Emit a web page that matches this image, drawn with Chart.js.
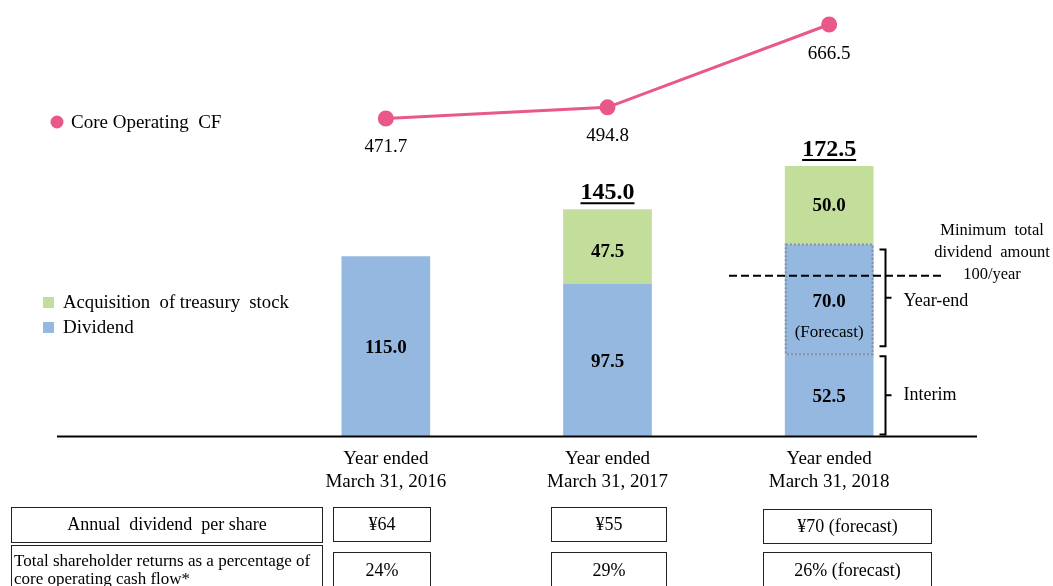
<!DOCTYPE html>
<html><head><meta charset="utf-8">
<script src="https://cdn.jsdelivr.net/npm/chart.js@4"></script>
<style>
html,body{margin:0;padding:0;background:#fff;overflow:hidden;}
#wrap{position:relative;width:1053px;height:586px;overflow:hidden;font-family:"Liberation Serif","Times New Roman",serif;color:#000;}
canvas{position:absolute;left:0;top:0;}
.box{position:absolute;box-sizing:border-box;border:1.5px solid #222;font-size:18px;text-align:center;white-space:pre;}
</style></head><body>
<div id="wrap"><canvas id="c" width="1053" height="586"></canvas><div id="tbl"></div></div>
<script>
// ---- data ----
const categories = [['Year ended','March 31, 2016'],['Year ended','March 31, 2017'],['Year ended','March 31, 2018']];
const dividend = [115.0, 97.5, 52.5];
const yearEndForecast = [null, null, 70.0];
const treasuryStock = [null, 47.5, 50.0];
const coreOperatingCF = [471.7, 494.8, 666.5];
const totals = [null, 145.0, 172.5];
const minDividendLevel = 100;
const minDividendText = ['Minimum  total', 'dividend  amount', '100/year'];
const rowLabels = ['Annual  dividend  per share', 'Total shareholder returns as a percentage of core operating cash flow*'];
const dividendPerShare = ['¥64', '¥55', '¥70 (forecast)'];
const returnRatio = ['24%', '29%', '26% (forecast)'];

// ---- styles ----
const FONT = '"Liberation Serif","Times New Roman",serif';
const BLUE = '#95B8E0';
const GREEN = '#C3DD9B';
const PINK = '#E8588A';

const overlay = {
  id: 'overlay',
  afterDatasetsDraw(chart) {
    const ctx = chart.ctx;
    const xs = chart.scales.x, ys = chart.scales.y;
    const mDiv = chart.getDatasetMeta(0), mFc = chart.getDatasetMeta(1), mTr = chart.getDatasetMeta(2), mLn = chart.getDatasetMeta(3);
    ctx.save();
    // baseline
    const y0 = ys.getPixelForValue(0);
    ctx.strokeStyle = '#000'; ctx.lineWidth = 2;
    ctx.beginPath(); ctx.moveTo(57, y0); ctx.lineTo(977, y0); ctx.stroke();

    ctx.fillStyle = '#000';
    ctx.textAlign = 'center'; ctx.textBaseline = 'middle';
    // category labels
    ctx.font = '19px ' + FONT;
    categories.forEach((c, i) => {
      const x = xs.getPixelForValue(i);
      ctx.fillText(c[0], x, y0 + 23);
      ctx.fillText(c[1], x, y0 + 46);
    });
    // bar values
    ctx.font = 'bold 19px ' + FONT;
    const segLabel = (meta, arr, i, dy) => {
      if (arr[i] == null) return;
      const el = meta.data[i];
      ctx.fillText(arr[i].toFixed(1), el.x, (el.y + el.base) / 2 + (dy || 0));
    };
    for (let i = 0; i < 3; i++) {
      segLabel(mDiv, dividend, i, 2);
      segLabel(mTr, treasuryStock, i, i === 1 ? 6 : 1);
    }
    // forecast segment
    const fe = mFc.data[2];
    const fc = (fe.y + fe.base) / 2;
    ctx.fillText(yearEndForecast[2].toFixed(1), fe.x, fc + 3);
    ctx.font = '17px ' + FONT;
    ctx.fillText('(Forecast)', fe.x, fc + 33);
    // dotted border
    ctx.strokeStyle = '#7F8FA8'; ctx.lineWidth = 2; ctx.setLineDash([2, 2]);
    ctx.strokeRect(fe.x - fe.width / 2 + 1, fe.y, fe.width - 2, fe.base - fe.y);
    ctx.setLineDash([]);

    // totals
    ctx.font = 'bold 24px ' + FONT;
    totals.forEach((t, i) => {
      if (t == null) return;
      const el = mTr.data[i];
      const ty = el.y - 16;
      const s = t.toFixed(1);
      ctx.fillText(s, el.x, ty);
      const w = ctx.measureText(s).width;
      ctx.strokeStyle = '#000'; ctx.lineWidth = 2;
      ctx.beginPath(); ctx.moveTo(el.x - w / 2, ty + 10); ctx.lineTo(el.x + w / 2, ty + 10); ctx.stroke();
    });

    // line labels
    ctx.font = '19px ' + FONT;
    coreOperatingCF.forEach((v, i) => {
      const p = mLn.data[i];
      ctx.fillText(v.toFixed(1), p.x, p.y + 29);
    });

    // minimum dividend dashed line
    const dy = ys.getPixelForValue(minDividendLevel) - 4;
    ctx.strokeStyle = '#000'; ctx.lineWidth = 2; ctx.setLineDash([8, 4]);
    ctx.beginPath(); ctx.moveTo(729, dy); ctx.lineTo(943, dy); ctx.stroke();
    ctx.setLineDash([]);
    ctx.font = '16.5px ' + FONT;
    minDividendText.forEach((t, k) => ctx.fillText(t, 992, dy - 45 + k * 22));

    // braces
    const brace = (xb, top, bot) => {
      const mid = (top + bot) / 2;
      ctx.strokeStyle = '#000'; ctx.lineWidth = 2;
      ctx.beginPath();
      ctx.moveTo(xb - 6, top); ctx.lineTo(xb, top); ctx.lineTo(xb, bot); ctx.lineTo(xb - 6, bot);
      ctx.moveTo(xb, mid); ctx.lineTo(xb + 6, mid);
      ctx.stroke();
      return mid;
    };
    const ie = mDiv.data[2];
    const xb = fe.x + fe.width / 2 + 12;
    const m1 = brace(xb, fe.y + 5, fe.base - 8);
    const m2 = brace(xb, ie.y + 2, ie.base - 2);
    ctx.textAlign = 'left';
    ctx.font = '18px ' + FONT;
    ctx.fillText('Year-end', xb + 18, m1 + 3);
    ctx.fillText('Interim', xb + 18, m2);

    // legends
    ctx.fillStyle = PINK;
    ctx.beginPath(); ctx.arc(57, 122, 6.5, 0, Math.PI * 2); ctx.fill();
    ctx.fillStyle = GREEN; ctx.fillRect(43, 297, 11, 11);
    ctx.fillStyle = BLUE; ctx.fillRect(43, 322, 11, 11);
    ctx.fillStyle = '#000';
    ctx.font = '19px ' + FONT;
    ctx.fillText('Core Operating  CF', 71, 123);
    ctx.font = '18.7px ' + FONT;
    ctx.fillText('Acquisition  of treasury  stock', 63, 303);
    ctx.font = '19px ' + FONT;
    ctx.fillText('Dividend', 63, 328);
    ctx.restore();
  }
};

new Chart(document.getElementById('c'), {
  type: 'bar',
  data: {
    labels: categories,
    datasets: [
      { label: 'Dividend', data: dividend, backgroundColor: BLUE, stack: 's', yAxisID: 'y', order: 1 },
      { label: 'Year-end (Forecast)', data: yearEndForecast, backgroundColor: BLUE, stack: 's', yAxisID: 'y', order: 1 },
      { label: 'Acquisition of treasury stock', data: treasuryStock, backgroundColor: GREEN, stack: 's', yAxisID: 'y', order: 1 },
      { type: 'line', label: 'Core Operating CF', data: coreOperatingCF, yAxisID: 'y2', borderColor: PINK, backgroundColor: PINK,
        borderWidth: 3, pointRadius: 6.5, pointHoverRadius: 6.5, tension: 0, order: 0 }
    ]
  },
  options: {
    responsive: false, animation: false,
    layout: { padding: { left: 275, right: 113, top: 10, bottom: 149.5 } },
    datasets: { bar: { categoryPercentage: 1, barPercentage: 0.4 } },
    scales: {
      x: { display: false, stacked: true },
      y: { display: false, stacked: true, min: 0, max: 272 },
      y2: { display: false, min: -187.4, max: 696.6 }
    },
    plugins: { legend: { display: false }, tooltip: { enabled: false } }
  },
  plugins: [overlay]
});

// ---- table ----
const tbl = document.getElementById('tbl');
function box(left, top, w, h, text, extra) {
  const d = document.createElement('div');
  d.className = 'box';
  d.style.cssText = `left:${left}px;top:${top}px;width:${w}px;height:${h}px;` + (extra || '');
  d.textContent = text;
  tbl.appendChild(d);
}
const colLeft = [333, 551, 763], colW = [98, 116, 169];
box(11, 507, 312, 36, rowLabels[0], 'line-height:33px;');
box(11, 545, 312, 60, rowLabels[1], 'white-space:normal;text-align:left;font-size:17px;line-height:18px;padding:6px 2px 0 2px;');
dividendPerShare.forEach((t, i) => box(colLeft[i], i === 2 ? 509 : 507, colW[i], 35, t, 'line-height:32px;'));
returnRatio.forEach((t, i) => box(colLeft[i], 552, colW[i], 50, t, 'line-height:20px;padding-top:7px;'));
</script>
</body></html>
